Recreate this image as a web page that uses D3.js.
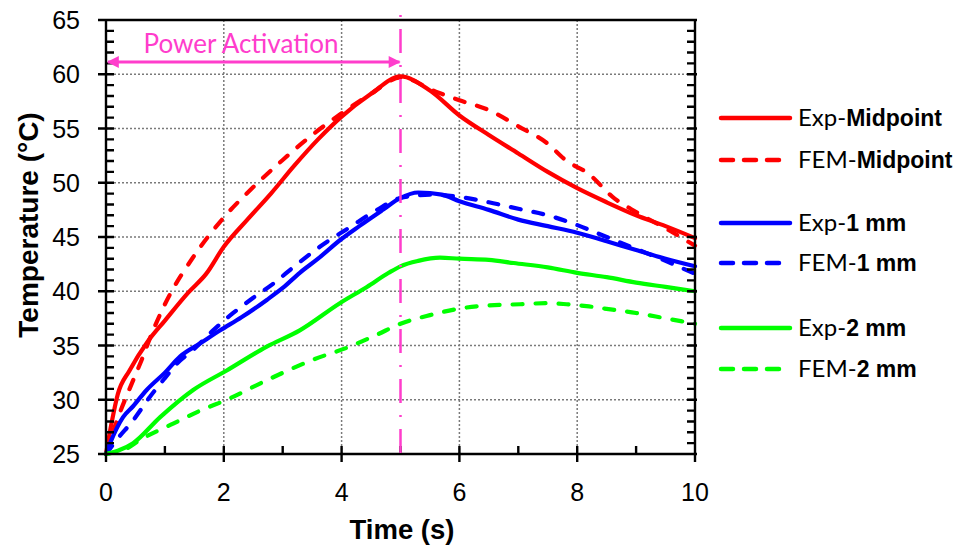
<!DOCTYPE html>
<html><head><meta charset="utf-8">
<script src="https://cdn.jsdelivr.net/npm/d3@7"></script>
<style>body{margin:0;background:#fff}svg{display:block}
.ax{stroke:#000;fill:none}</style>
</head><body>
<script>
// ---- data ----
const expMidT = [0,0.1,0.2,0.4,0.7,1.0,1.4,1.7,2.0,2.4,2.8,3.2,3.6,4.0,4.5,5.0,5.5,6.0,6.5,7.0,7.5,8.0,8.5,9.0,9.5,10];
const expMidV = [25,28,30.5,32.7,35.3,37.3,39.9,41.6,44.1,46.6,49.0,51.6,54.0,56.1,58.2,59.8,58.5,56.2,54.4,52.7,51.0,49.5,48.2,47.0,46.0,44.9];
const femMidT = [0,0.2,0.4,0.6,0.8,1.0,1.5,2.0,2.5,3.0,3.5,4.0,4.5,5.0,5.6,6.0,6.5,7.0,7.5,7.8,8.2,8.6,9.0,9.5,10];
const femMidV = [25,28.3,31,33.6,36.4,38.8,43.3,46.8,49.6,52.1,54.4,56.4,58.2,59.7,58.4,57.6,56.7,55.2,53.6,52.1,50.8,48.7,47.3,45.8,44.2];
const exp1T = [0,0.07,0.29,0.46,0.69,1.0,1.26,1.6,1.94,2.3,2.73,3.0,3.29,3.6,3.97,4.3,4.7,5.0,5.3,5.7,6.0,6.5,7.0,7.5,8.0,8.5,9.0,9.5,10];
const exp1V = [25,26,28.4,29.4,30.9,32.5,34.0,35.2,36.4,37.6,39.2,40.3,41.7,43.0,44.7,46.0,47.5,48.6,49.1,48.9,48.3,47.5,46.6,46.0,45.4,44.6,43.8,43.0,42.3];
const fem1T = [0,0.18,0.46,0.75,1.0,1.2,1.48,1.8,2.16,2.5,2.84,3.2,3.63,4.14,4.6,5.0,5.5,6.0,6.5,7.0,7.5,8.0,8.5,9.0,9.5,10];
const fem1V = [25,26.3,28.1,30.3,32.0,33.3,34.6,36.3,38.0,39.4,40.7,42.3,44.1,45.9,47.5,48.6,48.9,48.7,48.2,47.6,47.0,46.1,45.0,43.9,42.8,41.6];
const exp2T = [0,0.2,0.46,0.92,1.48,2.05,2.73,3.29,3.97,4.43,4.8,5.0,5.3,5.67,6.0,6.5,6.92,7.5,8.0,8.5,9.0,9.5,10];
const exp2V = [25,25.3,26.0,28.4,30.9,32.7,34.9,36.4,38.9,40.4,41.7,42.3,42.8,43.1,43.0,42.9,42.6,42.2,41.7,41.3,40.8,40.4,40.0];
const fem2T = [0,0.35,0.58,1.14,1.6,2.05,2.73,3.52,4.14,4.6,5.0,5.5,6.0,6.5,7.03,7.5,7.82,8.2,8.6,9.0,9.5,10];
const fem2V = [25,25.5,26.3,27.8,29.0,30.0,31.8,33.7,34.9,36.0,37.0,37.8,38.4,38.7,38.8,38.9,38.8,38.6,38.3,38.0,37.5,37.0];

const seriesNames = ["Exp-Midpoint","FEM-Midpoint","Exp-1 mm","FEM-1 mm","Exp-2 mm","FEM-2 mm"];
const legendPrefix = ["Exp-","FEM-","Exp-","FEM-","Exp-","FEM-"];
const legendBold = ["Midpoint","Midpoint","1 mm","1 mm","2 mm","2 mm"];
const seriesColors = ["#ff0000","#ff0000","#0000ff","#0000ff","#00ff00","#00ff00"];
const seriesDashed = [false,true,false,true,false,true];
const seriesT = [expMidT,femMidT,exp1T,fem1T,exp2T,fem2T];
const seriesV = [expMidV,femMidV,exp1V,fem1V,exp2V,fem2V];

const xTicks = [0,2,4,6,8,10];
const yTicks = [25,30,35,40,45,50,55,60,65];
const powerEnd = 5;
const annotation = "Power Activation";
const xTitle = "Time (s)";
const yTitle = "Temperature (°C)";

// ---- layout ----
const W = 964, H = 550;
const L = 106, R = 695, T = 20, B = 454;
const pink = "#ff3dcc";

const svg = d3.select("body").append("svg").attr("width", W).attr("height", H);
const x = d3.scaleLinear().domain([0,10]).range([L,R]);
const y = d3.scaleLinear().domain([25,65]).range([B,T]);

// grid
const g = svg.append("g");
g.selectAll(".gx").data(xTicks.filter(d=>d>0&&d<10)).enter().append("line")
  .attr("x1",d=>x(d)).attr("x2",d=>x(d)).attr("y1",T).attr("y2",B)
  .attr("stroke","#7a7a7a").attr("stroke-width",1.5).attr("stroke-dasharray","2,2");
g.selectAll(".gy").data(yTicks.filter(d=>d>25)).enter().append("line")
  .attr("x1",L).attr("x2",R).attr("y1",d=>y(d)).attr("y2",d=>y(d))
  .attr("stroke","#7a7a7a").attr("stroke-width",1.5).attr("stroke-dasharray","2,2");

// series
const line = d3.line().curve(d3.curveMonotoneX);
seriesT.forEach((ts,i)=>{
  const pts = ts.map((t,j)=>[x(t), y(seriesV[i][j])]);
  svg.append("path").attr("d", line(pts)).attr("fill","none")
    .attr("stroke", seriesColors[i]).attr("stroke-width",4.2)
    .attr("stroke-linecap","round").attr("stroke-linejoin","round")
    .attr("stroke-dasharray", seriesDashed[i] ? "10,13" : null);
});

// frame + ticks as one path
let dStr = `M${L},${T}H${R}V${B}H${L}Z`;
d3.range(25,66,1).forEach(v=>{
  const major = v%5===0, yy = y(v);
  dStr += `M${major? L-8 : L},${yy}H${L+8}`;
  dStr += `M${R-8},${yy}H${major? R+2 : R}`;
});
d3.range(0,11,1).forEach(v=>{
  const major = v%2===0, xx = x(v);
  dStr += `M${xx},${B-8}V${major? B+8 : B}`;
});
svg.append("path").attr("class","ax").attr("d", dStr)
  .attr("stroke","#000").attr("stroke-width",2.4).attr("fill","none")
  .style("stroke","#000").style("stroke-width","2.4px");

// tick labels
svg.selectAll(".yl").data(yTicks).enter().append("text")
  .attr("x",80).attr("y",d=>y(d)+9).attr("text-anchor","end")
  .attr("font-family","Liberation Sans, Arial, sans-serif").attr("font-size",25).text(d=>d);
svg.selectAll(".xl").data(xTicks).enter().append("text")
  .attr("x",d=>x(d)).attr("y",501).attr("text-anchor","middle")
  .attr("font-family","Liberation Sans, Arial, sans-serif").attr("font-size",25).text(d=>d);

// axis titles
svg.append("text").attr("x",402).attr("y",539).attr("text-anchor","middle")
  .attr("font-family","Liberation Sans, Arial, sans-serif").attr("font-weight","bold").attr("font-size",27.5).text(xTitle);
svg.append("text").attr("transform","translate(38,225) rotate(-90)").attr("text-anchor","middle")
  .attr("font-family","Liberation Sans, Arial, sans-serif").attr("font-weight","bold").attr("font-size",28).text(yTitle);

// power activation line
svg.append("line").attr("x1",x(powerEnd)).attr("x2",x(powerEnd)).attr("y1",15).attr("y2",B)
  .attr("stroke",pink).attr("stroke-width",2.5).attr("stroke-dasharray","2,12,24,12");
const defs = svg.append("defs");
defs.append("marker").attr("id","ah").attr("viewBox","0 0 10 10").attr("refX",9).attr("refY",5)
  .attr("markerWidth",5).attr("markerHeight",4).attr("markerUnits","strokeWidth").attr("orient","auto-start-reverse")
  .append("path").attr("d","M0,0 L10,5 L0,10 Z").attr("fill",pink);
svg.append("line").attr("x1",x(0)+2).attr("x2",x(powerEnd)-1).attr("y1",62).attr("y2",62)
  .attr("stroke",pink).attr("stroke-width",3)
  .attr("marker-start","url(#ah)").attr("marker-end","url(#ah)");
svg.append("text").attr("x",241).attr("y",53).attr("text-anchor","middle").attr("fill",pink)
  .attr("font-family","Lato, sans-serif").attr("font-size",26).text(annotation);

// legend
const legY = [118,160,223,263,328,369];
seriesNames.forEach((n,i)=>{
  svg.append("line").attr("x1",721).attr("x2",790).attr("y1",legY[i]).attr("y2",legY[i])
    .attr("stroke",seriesColors[i]).attr("stroke-width",4.5).attr("stroke-linecap","round")
    .attr("stroke-dasharray", seriesDashed[i] ? "12,11" : null);
  const t = svg.append("text").attr("x",798).attr("y",legY[i]+8).attr("fill","#000");
  t.append("tspan").attr("font-family","Lato, sans-serif").attr("font-size",24).text(legendPrefix[i]);
  t.append("tspan").attr("font-family","Liberation Sans, Arial, sans-serif").attr("font-weight","bold").attr("font-size",23).text(legendBold[i]);
});
</script>
</body></html>
